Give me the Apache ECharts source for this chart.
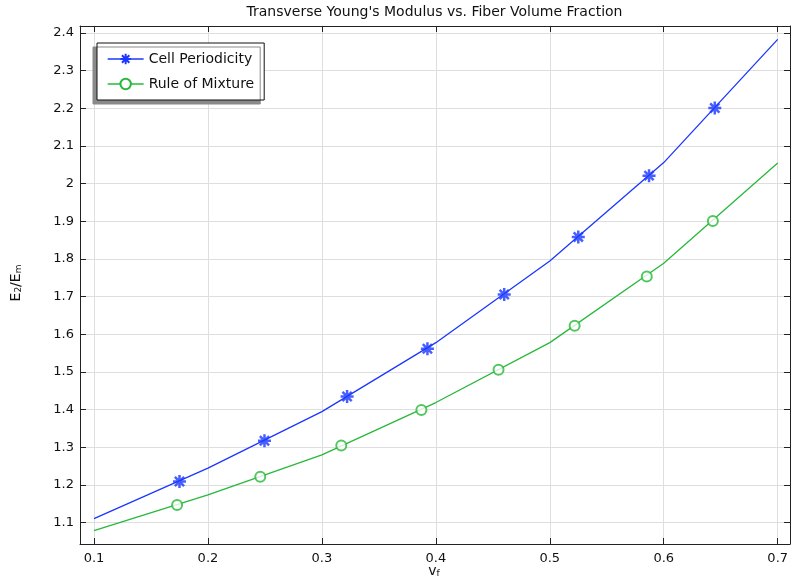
<!DOCTYPE html>
<html>
<head>
<meta charset="utf-8">
<script src="https://cdn.jsdelivr.net/npm/echarts@6/dist/echarts.min.js"></script>
<style>html,body{margin:0;padding:0;background:#fff;}#chart{width:791px;height:581px;}</style>
</head>
<body>
<div id="chart"></div>
<script>
// ---- data ----
const titleText = "Transverse Young's Modulus vs. Fiber Volume Fraction";
const seriesNames = ['Cell Periodicity', 'Rule of Mixture'];
const vf = [0.1, 0.2, 0.3, 0.4, 0.5, 0.6, 0.7];
const cellPeriodicity = [1.111, 1.245, 1.395, 1.578, 1.795, 2.056, 2.383];
const ruleOfMixture = [1.079, 1.174, 1.280, 1.419, 1.578, 1.789, 2.055];
const cellMarkerVf = [0.175, 0.2496, 0.3221, 0.3926, 0.460, 0.525, 0.5871, 0.6448];
const cellMarkerVal = [1.2095, 1.3175, 1.435, 1.5616, 1.7057, 1.8587, 2.0214, 2.201];
const ruleMarkerVf = [0.1729, 0.2459, 0.3170, 0.3873, 0.4550, 0.5218, 0.5851, 0.6431];
const ruleMarkerVal = [1.1469, 1.222, 1.305, 1.399, 1.5059, 1.6226, 1.7534, 1.9012];
const xRange = [0.0877, 0.7108];
const yRange = [1.0435, 2.4186];

// ---- styling ----
const BLUE = '#1a37ff';
const GREEN = '#28b83a';
const FONT = 'DejaVu Sans';
const asterisk = 'path://M0,-6L0,6M-6,0L6,0M-4.24,-4.24L4.24,4.24M-4.24,4.24L4.24,-4.24';

const pairs = (xs, ys) => xs.map((x, i) => [x, ys[i]]);
const tenthLabel = v => {
  const r = Math.round(v * 10) / 10;
  return Math.abs(v - r) > 1e-6 ? '' : String(r);
};

const axisLineStyle = { color: '#222', width: 1 };
const gridLine = { show: true, lineStyle: { color: '#dedede', width: 1 } };

const chart = echarts.init(document.getElementById('chart'), null, { renderer: 'canvas' });
chart.setOption({
  animation: false,
  backgroundColor: '#fff',
  textStyle: { fontFamily: FONT },
  grid: { left: 80, right: 1, top: 26, bottom: 37, containLabel: false, outerBoundsMode: 'none' },
  xAxis: [
    {
      type: 'value', position: 'bottom', min: xRange[0], max: xRange[1], splitNumber: 6,
      axisLine: { show: true, onZero: false, lineStyle: axisLineStyle },
      axisTick: { show: true, inside: true, length: 6, lineStyle: axisLineStyle },
      axisLabel: { show: true, fontSize: 13, color: '#111', margin: 8, fontFamily: FONT, formatter: tenthLabel },
      splitLine: gridLine
    },
    {
      type: 'value', position: 'top', min: xRange[0], max: xRange[1], splitNumber: 6,
      axisLine: { show: true, onZero: false, lineStyle: axisLineStyle },
      axisTick: { show: true, inside: true, length: 6, lineStyle: axisLineStyle },
      axisLabel: { show: false },
      splitLine: { show: false }
    }
  ],
  yAxis: [
    {
      type: 'value', position: 'left', min: yRange[0], max: yRange[1], splitNumber: 13,
      axisLine: { show: true, onZero: false, lineStyle: axisLineStyle },
      axisTick: { show: true, inside: true, length: 6, lineStyle: axisLineStyle },
      axisLabel: { show: true, fontSize: 13, color: '#111', margin: 6, fontFamily: FONT, formatter: tenthLabel },
      splitLine: gridLine
    },
    {
      type: 'value', position: 'right', min: yRange[0], max: yRange[1], splitNumber: 13,
      axisLine: { show: true, onZero: false, lineStyle: axisLineStyle },
      axisTick: { show: true, inside: true, length: 6, lineStyle: axisLineStyle },
      axisLabel: { show: false },
      splitLine: { show: false }
    }
  ],
  legend: {
    data: seriesNames,
    orient: 'vertical',
    left: 97, top: 43,
    padding: [9, 10, 9, 10],
    itemGap: 11,
    itemWidth: 36, itemHeight: 13,
    backgroundColor: '#fff',
    borderColor: '#111', borderWidth: 1,
    shadowColor: '#8a8a8a', shadowBlur: 0, shadowOffsetX: -4, shadowOffsetY: 4,
    textStyle: { fontSize: 14, color: '#111', fontFamily: FONT },
    lineStyle: { width: 1.3 },
    itemStyle: { borderWidth: 2 },
    selectedMode: false
  },
  series: [
    {
      name: seriesNames[0], type: 'line', data: pairs(vf, cellPeriodicity),
      showSymbol: false, symbol: asterisk, symbolSize: 12,
      lineStyle: { color: BLUE, width: 1.3 },
      itemStyle: { color: BLUE, borderColor: BLUE, borderWidth: 2.5 },
      emphasis: { disabled: true }, z: 2
    },
    {
      name: seriesNames[1], type: 'line', data: pairs(vf, ruleOfMixture),
      showSymbol: false, symbol: 'emptyCircle', symbolSize: 10,
      lineStyle: { color: GREEN, width: 1.3 },
      itemStyle: { color: GREEN, borderColor: GREEN, borderWidth: 1.5 },
      emphasis: { disabled: true }, z: 2
    },
    {
      name: seriesNames[0], type: 'scatter', data: pairs(cellMarkerVf, cellMarkerVal),
      symbol: asterisk, symbolSize: 13,
      itemStyle: { color: BLUE, borderColor: BLUE, borderWidth: 2.5 },
      emphasis: { disabled: true }, z: 3
    },
    {
      name: seriesNames[1], type: 'scatter', data: pairs(ruleMarkerVf, ruleMarkerVal),
      symbol: 'emptyCircle', symbolSize: 10,
      itemStyle: { color: GREEN, borderColor: GREEN, borderWidth: 1.5 },
      emphasis: { disabled: true }, z: 3
    }
  ],
  graphic: [
    {
      type: 'text', x: 434.5, y: 12.5, silent: true,
      style: { text: titleText, font: '14px "DejaVu Sans"', fill: '#111', align: 'center', verticalAlign: 'middle' }
    },
    {
      type: 'text', x: 434, y: 571, silent: true,
      style: {
        text: 'v{sub|f}', fill: '#111', align: 'center', verticalAlign: 'middle',
        font: '14px "DejaVu Sans"',
        rich: { sub: { fontSize: 9, fontFamily: FONT, fill: '#111', padding: [6, 0, 0, 0] } }
      }
    },
    {
      type: 'text', x: 16, y: 283, rotation: Math.PI / 2, silent: true,
      style: {
        text: 'E{sub|2}/E{sub|m}', fill: '#111', align: 'center', verticalAlign: 'middle',
        font: '14px "DejaVu Sans"',
        rich: { sub: { fontSize: 9, fontFamily: FONT, fill: '#111', padding: [6, 0, 0, 0] } }
      }
    }
  ]
});
</script>
</body>
</html>
